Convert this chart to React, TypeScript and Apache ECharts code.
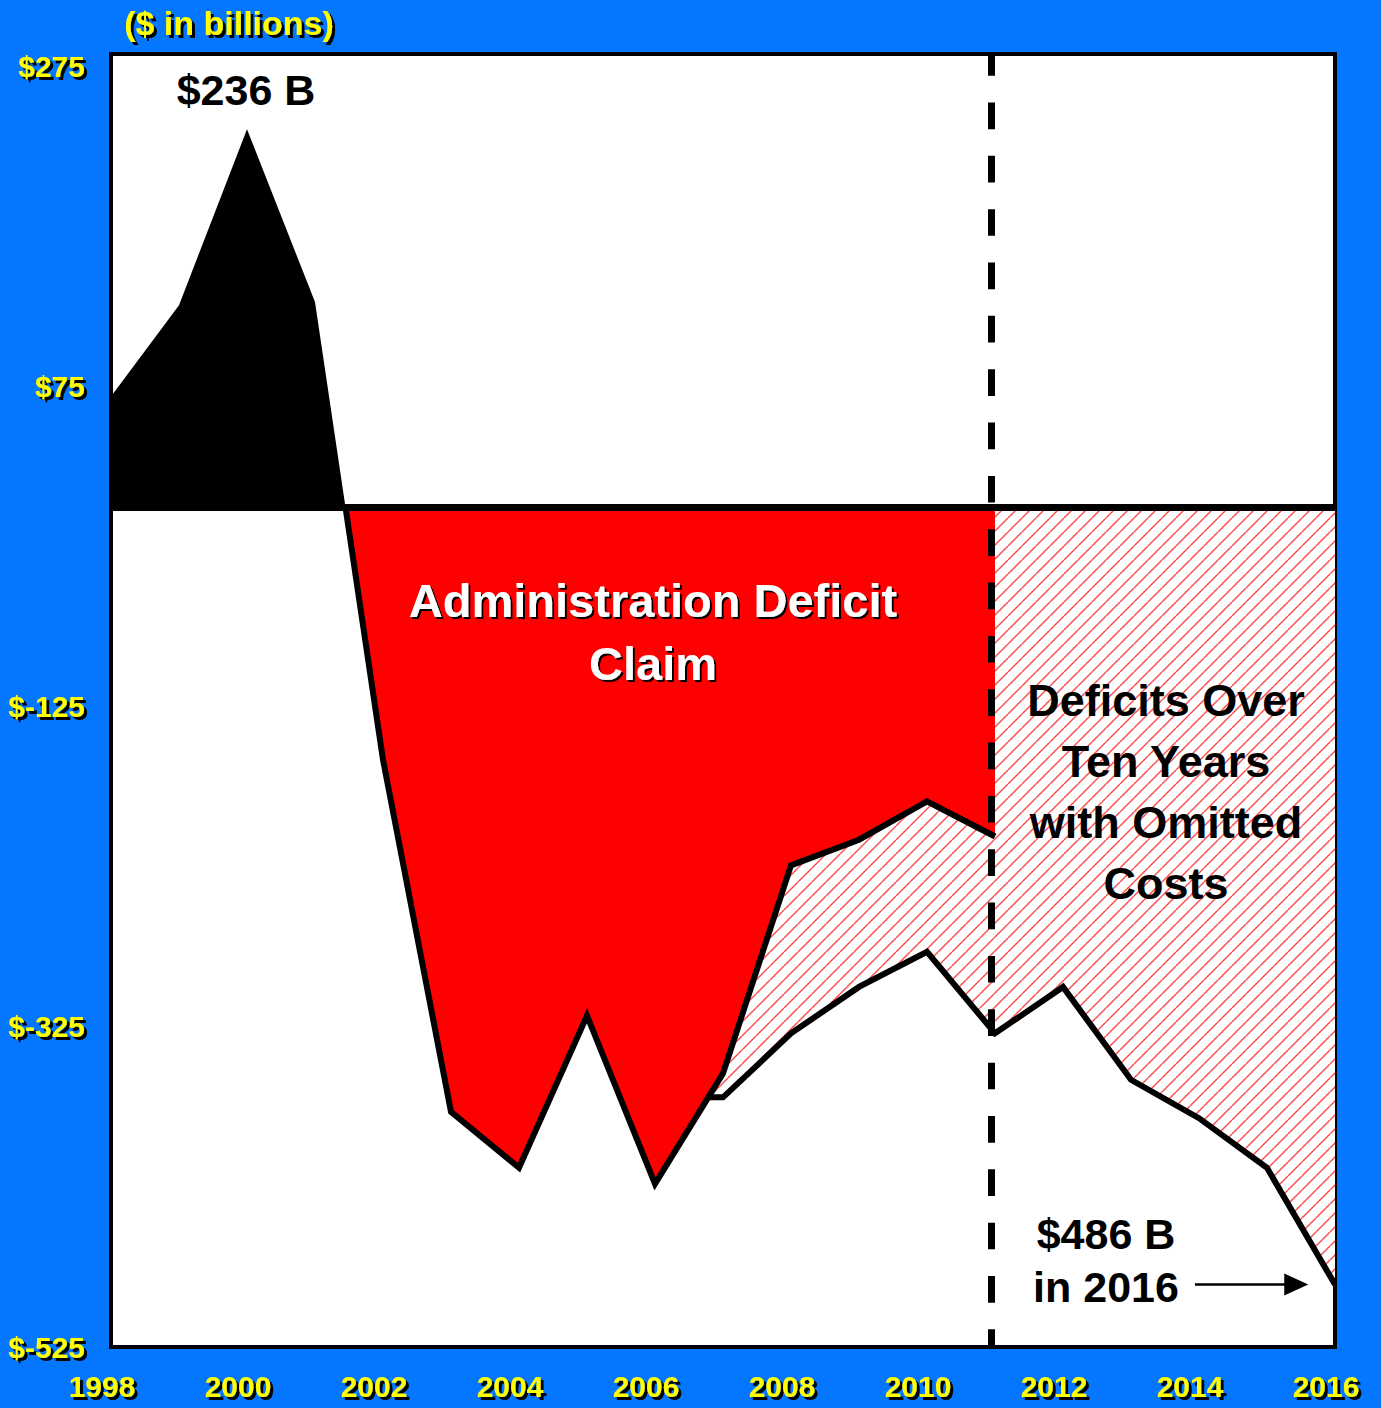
import React, { useEffect, useRef } from 'react';
import * as echarts from 'echarts';

// ---- data ($ in billions) ----
const surplusYears = [1998, 1999, 2000, 2001];
const surplusValues = [69, 126, 236, 128];

const claimYears = [2002, 2003, 2004, 2005, 2006, 2007, 2008, 2009, 2010, 2011];
const claimValues = [-158, -378, -413, -318, -423, -354, -224, -208, -184, -206];

const omittedYears = [2007, 2008, 2009, 2010, 2011, 2012, 2013, 2014, 2015, 2016];
const omittedValues = [-369, -329, -300, -278, -329, -300, -358, -382, -413, -486];

const yTickValues = [-525, -325, -125, 75, 275];
const xTickYears = [1998, 2000, 2002, 2004, 2006, 2008, 2010, 2012, 2014, 2016];
const dividerYear = 2010.94;

const FONT = '"Liberation Sans", Arial, sans-serif';
const YELLOW = '#FFFF00';
const BLUE = '#0576FF';

function makeHatch(): HTMLCanvasElement {
  const c = document.createElement('canvas');
  c.width = 14;
  c.height = 14;
  const ctx = c.getContext('2d')!;
  ctx.fillStyle = '#ffffff';
  ctx.fillRect(0, 0, 14, 14);
  ctx.strokeStyle = '#ff4a4a';
  ctx.lineWidth = 1.4;
  for (const off of [-14, 0, 14]) {
    ctx.beginPath();
    ctx.moveTo(off, 14);
    ctx.lineTo(off + 14, 0);
    ctx.stroke();
  }
  return c;
}

export default function App() {
  const ref = useRef<HTMLDivElement>(null);

  useEffect(() => {
    if (!ref.current) return;
    const chart = echarts.init(ref.current, undefined, { renderer: 'svg' });

    // derived points
    const lastS = surplusValues[surplusValues.length - 1];
    const firstC = claimValues[0];
    const crossing = surplusYears[surplusYears.length - 1] + lastS / (lastS - firstC);

    const i06 = claimYears.indexOf(2006);
    const a0 = claimValues[i06];
    const a1 = claimValues[i06 + 1];
    const omitStart = 2006 + (omittedValues[0] - a0) / (a1 - a0);

    const surplusData: number[][] = surplusYears.map((y, i) => [y, surplusValues[i]]);
    surplusData.push([crossing, 0]);
    const claimData: number[][] = [[crossing, 0], ...claimYears.map((y, i) => [y, claimValues[i]])];
    const omittedData: number[][] = [[omitStart, omittedValues[0]], ...omittedYears.map((y, i) => [y, omittedValues[i]])];

    const hatch = { image: makeHatch(), repeat: 'repeat', imageWidth: 14, imageHeight: 14 };
    const lastOmit = omittedValues[omittedValues.length - 1];
    const shadow = { textShadowColor: '#000', textShadowOffsetX: 3, textShadowOffsetY: 3, textShadowBlur: 1 };

    chart.setOption({
      animation: false,
      backgroundColor: BLUE,
      grid: {
        left: 111, top: 54, right: 46, bottom: 61,
        show: true, backgroundColor: '#ffffff', borderColor: '#000', borderWidth: 4,
      },
      xAxis: {
        type: 'value', min: 1998, max: 2016, interval: 2,
        axisLine: { show: false }, axisTick: { show: false }, splitLine: { show: false },
        axisLabel: {
          color: YELLOW, fontSize: 30, fontWeight: 'bold', fontFamily: FONT, margin: 24,
          padding: [0, 18, 0, 0], ...shadow,
          formatter: (v: number) => (xTickYears.includes(v) ? String(v) : ''),
        },
      },
      yAxis: {
        type: 'value', min: -525, max: 283, interval: 200,
        axisLine: { show: false }, axisTick: { show: false }, splitLine: { show: false },
        axisLabel: {
          color: YELLOW, fontSize: 30, fontWeight: 'bold', fontFamily: FONT, margin: 26,
          padding: [8, 0, 0, 0], ...shadow,
          formatter: (v: number) => (yTickValues.includes(v) ? '$' + v : ''),
        },
      },
      series: [
        {
          name: 'omitted-area', type: 'line', data: omittedData, showSymbol: false, symbol: 'none', z: 1,
          lineStyle: { width: 0, opacity: 0 }, areaStyle: { color: hatch, opacity: 1 },
        },
        {
          name: 'claim-area', type: 'line', data: claimData, showSymbol: false, symbol: 'none', z: 2,
          lineStyle: { width: 0, opacity: 0 }, areaStyle: { color: '#FF0000', opacity: 1 },
        },
        {
          name: 'surplus-area', type: 'line', data: surplusData, showSymbol: false, symbol: 'none', z: 2,
          lineStyle: { width: 0, opacity: 0 }, areaStyle: { color: '#000000', opacity: 1 },
        },
        {
          name: 'claim-line', type: 'line', data: claimData, showSymbol: false, symbol: 'none', z: 3,
          lineStyle: { color: '#000', width: 6, join: 'miter', cap: 'butt' },
          markLine: {
            silent: true, symbol: ['none', 'none'], z: 4,
            label: { show: false },
            data: [
              { yAxis: 0, lineStyle: { color: '#000', width: 7, type: 'solid' } },
              { xAxis: dividerYear, lineStyle: { color: '#000', width: 7, type: [26.67, 26.67], dashOffset: 8.67 } },
            ],
          },
        },
        {
          name: 'omitted-line', type: 'line', data: omittedData, showSymbol: false, symbol: 'none', z: 3,
          lineStyle: { color: '#000', width: 6, join: 'miter', cap: 'butt' },
          markLine: {
            silent: true, symbol: ['none', 'triangle'], symbolSize: [22, 24], z: 4,
            label: { show: false },
            lineStyle: { color: '#000', width: 2.5, type: 'solid' },
            data: [[{ coord: [2013.94, lastOmit] }, { coord: [2015.43, lastOmit] }]],
          },
        },
      ],
      graphic: [
        {
          type: 'text', x: 229, y: 23, z: 10,
          style: { text: '($ in billions)', fill: YELLOW, font: `bold 34px ${FONT}`, align: 'center', verticalAlign: 'middle', ...shadow },
        },
        {
          type: 'text', x: 246, y: 90, z: 10,
          style: { text: '$236 B', fill: '#000', font: `bold 43px ${FONT}`, align: 'center', verticalAlign: 'middle' },
        },
        {
          type: 'text', x: 653, y: 632, z: 10,
          style: {
            text: 'Administration Deficit\nClaim', fill: '#fff', font: `bold 47px ${FONT}`, lineHeight: 63,
            align: 'center', verticalAlign: 'middle',
            textShadowColor: '#000', textShadowOffsetX: 2, textShadowOffsetY: 2, textShadowBlur: 1,
          },
        },
        {
          type: 'text', x: 1166, y: 792, z: 10,
          style: {
            text: 'Deficits Over\nTen Years\nwith Omitted\nCosts', fill: '#000', font: `bold 45px ${FONT}`, lineHeight: 61,
            align: 'center', verticalAlign: 'middle',
          },
        },
        {
          type: 'text', x: 1106, y: 1260, z: 10,
          style: {
            text: '$486 B\nin 2016', fill: '#000', font: `bold 43px ${FONT}`, lineHeight: 53,
            align: 'center', verticalAlign: 'middle',
          },
        },
      ],
    });

    return () => chart.dispose();
  }, []);

  return <div ref={ref} style={{ position: 'absolute', left: 0, top: 0, width: 1381, height: 1408 }} />;
}
